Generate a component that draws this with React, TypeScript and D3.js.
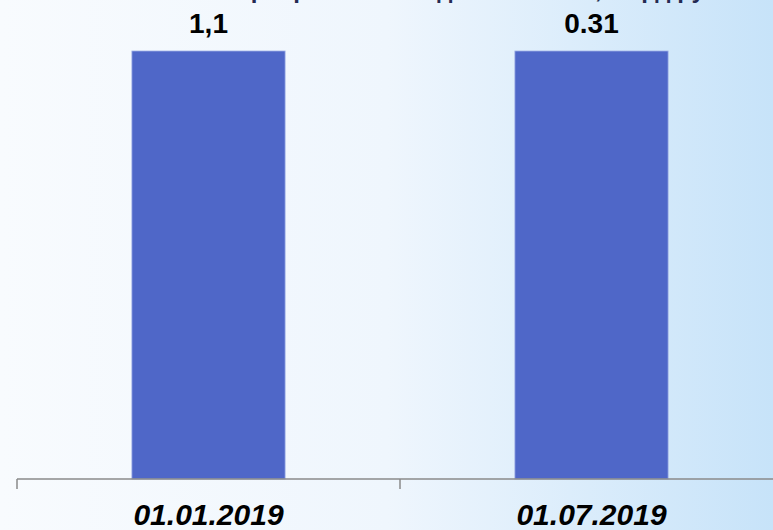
import React, { useEffect, useRef } from 'react';
import * as d3 from 'd3';

const categories = ['01.01.2019', '01.07.2019'];
const valueLabels = ['1,1', '0.31'];
// bars are drawn at equal heights in the source picture
const barHeights = [1, 1];
const title = 'Просроченная задолженность, млрд руб.';

const width = 773;
const height = 530;

export default function App() {
  const svgRef = useRef<SVGSVGElement>(null);

  useEffect(() => {
    if (!svgRef.current) return;
    const svg = d3.select(svgRef.current);
    svg.selectAll('*').remove();

    const margin = { top: 51, bottom: 51, left: 17, right: -10 };
    const axisY = height - margin.bottom;

    // Background gradient
    const defs = svg.append('defs');
    const bg = defs.append('linearGradient')
      .attr('id', 'bg')
      .attr('x1', '0%').attr('y1', '0%')
      .attr('x2', '100%').attr('y2', '0%');
    bg.append('stop').attr('offset', '0%').attr('stop-color', '#f8fbfe');
    bg.append('stop').attr('offset', '50%').attr('stop-color', '#eff6fd');
    bg.append('stop').attr('offset', '100%').attr('stop-color', '#c7e3f9');

    svg.append('rect')
      .attr('width', width).attr('height', height)
      .attr('fill', 'url(#bg)');

    const x = d3.scaleBand<string>()
      .domain(categories)
      .range([margin.left, width - margin.right])
      .padding(0);

    const y = d3.scaleLinear()
      .domain([0, 1])
      .range([axisY, margin.top]);

    const barW = x.bandwidth() * 0.4;

    // Title (cut off at the top edge, as in the source)
    svg.append('text')
      .attr('x', 480)
      .attr('y', -2)
      .attr('text-anchor', 'middle')
      .attr('font-family', 'Arial, "Liberation Sans", sans-serif')
      .attr('font-weight', 'bold')
      .attr('font-size', 24)
      .attr('fill', '#252a52')
      .text(title);

    // Bars
    svg.selectAll('.bar')
      .data(categories)
      .enter()
      .append('rect')
      .attr('class', 'bar')
      .attr('x', d => (x(d) || 0) + (x.bandwidth() - barW) / 2)
      .attr('y', (_, i) => y(barHeights[i]))
      .attr('width', barW)
      .attr('height', (_, i) => axisY - y(barHeights[i]))
      .attr('fill', '#4f67c8')
      .attr('stroke', '#9fb0e6')
      .attr('stroke-width', 0.8);

    // Value labels
    svg.selectAll('.val')
      .data(valueLabels)
      .enter()
      .append('text')
      .attr('class', 'val')
      .attr('x', (_, i) => (x(categories[i]) || 0) + x.bandwidth() / 2)
      .attr('y', (_, i) => y(barHeights[i]) - 18)
      .attr('text-anchor', 'middle')
      .attr('font-family', 'Arial, "Liberation Sans", sans-serif')
      .attr('font-weight', 'bold')
      .attr('font-size', 28)
      .attr('fill', '#000')
      .text(d => d);

    // Axis
    const xAxis = d3.axisBottom(x).tickSize(0).tickFormat(() => '');
    const gAxis = svg.append('g')
      .attr('transform', `translate(0,${axisY})`)
      .call(xAxis);
    gAxis.select('.domain').remove();

    gAxis.append('line')
      .attr('x1', margin.left).attr('x2', width)
      .attr('y1', 0).attr('y2', 0)
      .attr('stroke', '#8a8a8a')
      .attr('stroke-width', 1.5);

    const boundaries = categories.map(c => x(c) || 0);
    gAxis.selectAll('.tickmark')
      .data(boundaries)
      .enter()
      .append('line')
      .attr('class', 'tickmark')
      .attr('x1', d => d).attr('x2', d => d)
      .attr('y1', 0).attr('y2', 10)
      .attr('stroke', '#8a8a8a')
      .attr('stroke-width', 1.5);

    gAxis.selectAll('.cat')
      .data(categories)
      .enter()
      .append('text')
      .attr('class', 'cat')
      .attr('x', d => (x(d) || 0) + x.bandwidth() / 2)
      .attr('y', 46)
      .attr('text-anchor', 'middle')
      .attr('font-family', 'Arial, "Liberation Sans", sans-serif')
      .attr('font-weight', 'bold')
      .attr('font-style', 'italic')
      .attr('font-size', 30)
      .attr('fill', '#000')
      .text(d => d);
  }, []);

  return (
    <svg
      ref={svgRef}
      width={width}
      height={height}
      style={{ position: 'absolute', left: 0, top: 0, display: 'block' }}
    />
  );
}
